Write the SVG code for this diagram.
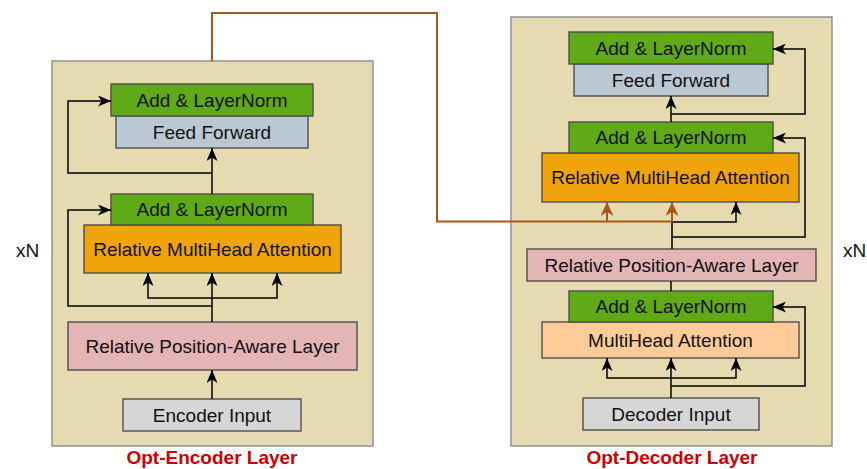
<svg xmlns="http://www.w3.org/2000/svg" width="867" height="469" viewBox="0 0 867 469">
  <style>
    .box { stroke: #4d4d4d; stroke-width: 1.4; }
    .frame { fill: #e6dbb0; stroke: #8c8c8c; stroke-width: 1.4; }
    .ln { fill: #60a917; }
    .ff { fill: #bac8d3; }
    .rmha { fill: #f0a30a; }
    .rpa { fill: #e3b5b5; }
    .mha { fill: #ffcc99; }
    .inp { fill: #d6d6d6; }
    .t { font-family: "Liberation Sans", Arial, sans-serif; font-size: 19px; fill: #111; text-anchor: middle; }
    .cap { font-family: "Liberation Sans", Arial, sans-serif; font-size: 19px; font-weight: bold; fill: #cc0000; text-anchor: middle; }
    .rep { font-family: "Liberation Sans", Arial, sans-serif; font-size: 19px; fill: #111; }
    .wire { fill: none; stroke: #000; stroke-width: 1.5; }
    .cross { fill: none; stroke: #a9581c; stroke-width: 2; }
  </style>
  <defs>
    <marker id="arrow" markerUnits="userSpaceOnUse" viewBox="0 0 13 11" markerWidth="13" markerHeight="11" refX="13" refY="5.5" orient="auto">
      <path d="M0,0 L13,5.5 L0,11 L3.5,5.5 z" fill="#000"/>
    </marker>
    <marker id="arrow-brown" markerUnits="userSpaceOnUse" viewBox="0 0 14 13" markerWidth="14" markerHeight="13" refX="14" refY="6.5" orient="auto">
      <path d="M0,0 L14,6.5 L0,13 L4,6.5 z" fill="#a9581c"/>
    </marker>
  </defs>

  <!-- layer frames -->
  <rect id="encoder-frame" class="frame" x="52" y="61" width="321" height="385"/>
  <rect id="decoder-frame" class="frame" x="511" y="17" width="321" height="429"/>

  <!-- repetition marks -->
  <text class="rep" x="16" y="257">xN</text>
  <text class="rep" x="843" y="257">xN</text>

  <!-- encoder blocks -->
  <g id="enc-ff"><rect class="box ff" x="116" y="116" width="192" height="32"/><text class="t" x="212" y="138.5">Feed Forward</text></g>
  <g id="enc-ln2"><rect class="box ln" x="111" y="84" width="202" height="32"/><text class="t" x="212" y="106.5">Add &amp; LayerNorm</text></g>
  <g id="enc-rmha"><rect class="box rmha" x="84" y="225" width="257" height="48"/><text class="t" x="212.5" y="255.5">Relative MultiHead Attention</text></g>
  <g id="enc-ln1"><rect class="box ln" x="111" y="194" width="202" height="31"/><text class="t" x="212" y="216">Add &amp; LayerNorm</text></g>
  <g id="enc-rpa"><rect class="box rpa" x="68" y="322" width="289" height="48"/><text class="t" x="212.5" y="352.5">Relative Position-Aware Layer</text></g>
  <g id="enc-input"><rect class="box inp" x="123" y="399" width="178" height="32"/><text class="t" x="212" y="421.5">Encoder Input</text></g>

  <!-- decoder blocks -->
  <g id="dec-ff"><rect class="box ff" x="574" y="64" width="194" height="32"/><text class="t" x="671" y="86.5">Feed Forward</text></g>
  <g id="dec-ln3"><rect class="box ln" x="569" y="32" width="204" height="32"/><text class="t" x="671" y="54.5">Add &amp; LayerNorm</text></g>
  <g id="dec-rmha"><rect class="box rmha" x="542" y="153" width="257" height="49"/><text class="t" x="670.5" y="184">Relative MultiHead Attention</text></g>
  <g id="dec-ln2"><rect class="box ln" x="569" y="122" width="204" height="31"/><text class="t" x="671" y="144">Add &amp; LayerNorm</text></g>
  <g id="dec-rpa"><rect class="box rpa" x="527" y="249" width="289" height="32"/><text class="t" x="671.5" y="271.5">Relative Position-Aware Layer</text></g>
  <g id="dec-mha"><rect class="box mha" x="542" y="322" width="257" height="36"/><text class="t" x="670.5" y="346.5">MultiHead Attention</text></g>
  <g id="dec-ln1"><rect class="box ln" x="569" y="291" width="204" height="31"/><text class="t" x="671" y="313">Add &amp; LayerNorm</text></g>
  <g id="dec-input"><rect class="box inp" x="583" y="398" width="176" height="32"/><text class="t" x="671" y="420.5">Decoder Input</text></g>

  <!-- captions -->
  <text class="cap" x="212" y="464">Opt-Encoder Layer</text>
  <text class="cap" x="672" y="464">Opt-Decoder Layer</text>

  <!-- connectors -->
  <g id="connectors">
    <!-- encoder -->
    <path class="wire" d="M212,399 V370" marker-end="url(#arrow)"/>
    <path class="wire" d="M212,322 V273" marker-end="url(#arrow)"/>
    <path class="wire" d="M212,298 H148 V273" marker-end="url(#arrow)"/>
    <path class="wire" d="M212,298 H277 V273" marker-end="url(#arrow)"/>
    <path class="wire" d="M212,306 H68 V210 H111" marker-end="url(#arrow)"/>
    <path class="wire" d="M212,194 V148" marker-end="url(#arrow)"/>
    <path class="wire" d="M212,173 H68 V101 H111" marker-end="url(#arrow)"/>
    <!-- decoder -->
    <path class="wire" d="M671,398 V358" marker-end="url(#arrow)"/>
    <path class="wire" d="M671,378 H607 V358" marker-end="url(#arrow)"/>
    <path class="wire" d="M671,378 H736 V358" marker-end="url(#arrow)"/>
    <path class="wire" d="M671,386 H805 V307 H773" marker-end="url(#arrow)"/>
    <path class="wire" d="M671,291 V281"/>
    <path class="wire" d="M672,249 V222 H736 V202" marker-end="url(#arrow)"/>
    <path class="wire" d="M672,237 H805 V138 H773" marker-end="url(#arrow)"/>
    <path class="wire" d="M671,122 V96" marker-end="url(#arrow)"/>
    <path class="wire" d="M671,114 H805 V49 H773" marker-end="url(#arrow)"/>
    <!-- encoder output into decoder attention -->
    <path class="cross" d="M212,61 V13 H437 V221.5 H672 V202" marker-end="url(#arrow-brown)"/>
    <path class="cross" d="M607,221.5 V202" marker-end="url(#arrow-brown)"/>
  </g>
</svg>
